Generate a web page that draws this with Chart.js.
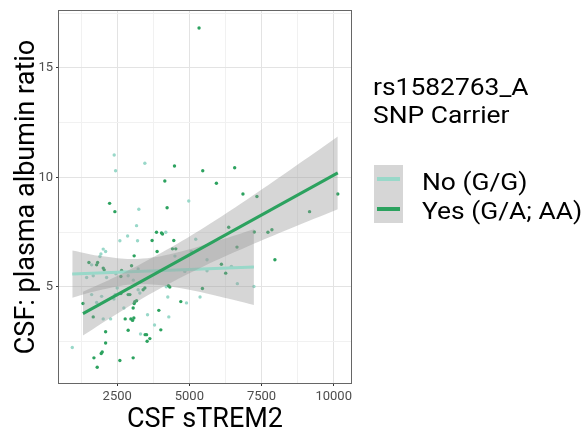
<!DOCTYPE html>
<html lang="en">
<head>
<meta charset="UTF-8">
<title>CSF sTREM2 vs CSF: plasma albumin ratio</title>
<script src="https://cdn.jsdelivr.net/npm/chart.js@4.4.1/dist/chart.umd.min.js"></script>
<style>
	body { margin: 0; background: #fff; font-family: Roboto, sans-serif; }
	#wrap { position: relative; width: 585px; height: 431px; }
	.legend-title { position: absolute; left: 373px; top: 73px; font-size: 24px; line-height: 28px; color: #000; white-space: nowrap; transform: scaleX(1.1); transform-origin: left top; }
	.key-box { position: absolute; left: 374px; top: 165px; width: 29px; height: 58px; background: #d6d6d6; }
	.key-line { position: absolute; left: 3px; width: 23px; height: 4px; }
	.legend-labels { position: absolute; left: 422px; top: 168px; font-size: 24px; line-height: 29px; color: #000; white-space: nowrap; transform: scaleX(1.1); transform-origin: left top; }
</style>
</head>
<body>
<div id="wrap">
	<canvas id="chart" width="585" height="431"></canvas>
	<div class="legend-title">rs1582763_A<br>SNP Carrier</div>
	<div class="key-box">
		<div class="key-line" style="top:12px;background:#99d8c9"></div>
		<div class="key-line" style="top:42px;background:#2ca25f"></div>
	</div>
	<div class="legend-labels">No (G/G)<br>Yes (G/A; AA)</div>
</div>

<script>
// carriers (G/A; AA)
const yesSTREM2 = [5336, 4485, 4150, 5464, 6570, 5937, 6857, 7341, 10142, 2237,
	2420, 4229, 9164, 6363, 7722, 7860, 7250, 3710, 3862, 4035,
	4070, 4461, 3883, 4416, 4530, 6650, 7964, 6110, 6259, 5453,
	4277, 4322, 4703, 4011, 3942, 3631, 3537, 3468, 3517, 3399,
	3458, 3088, 3112, 3053, 3171, 2974, 3033, 3077, 2777, 2880,
	3053, 2593, 2099, 2099, 1981, 1947, 1694, 1808, 1670, 1314,
	2628, 2880, 2939, 3088, 1521, 1822, 1788, 2016, 2050, 2652,
	2628, 2998];
const yesRatio = [16.82, 10.52, 9.83, 10.30, 10.44, 9.73, 9.24, 9.12, 9.24, 8.81,
	8.43, 8.61, 8.43, 7.72, 7.49, 7.60, 7.50, 7.11, 7.49, 7.46,
	7.41, 7.11, 6.61, 6.73, 6.73, 6.81, 6.23, 6.03, 5.62, 4.92,
	5.05, 4.99, 4.32, 3.03, 3.92, 2.63, 2.51, 2.81, 2.81, 4.86,
	4.94, 4.23, 4.32, 4.03, 4.36, 3.53, 3.46, 3.57, 3.53, 3.01,
	1.75, 1.63, 2.94, 2.43, 2.02, 1.95, 1.75, 1.32, 3.62, 4.23,
	4.69, 4.64, 4.64, 6.41, 6.11, 6.11, 6.00, 5.85, 5.77, 5.74,
	5.47, 5.96];

// non carriers (G/G)
const noSTREM2 = [2396, 2445, 3458, 3250, 4979, 3171, 2860, 2593, 3205, 4184,
	5221, 5073, 5612, 6456, 5612, 6663, 5370, 7237, 4253, 4900,
	3793, 4288, 3551, 3309, 944, 2016, 2272, 1788, 1615, 1961,
	2386, 2431, 2732, 2016, 2099, 1936, 1902, 1615, 1670, 1442,
	2133, 2455, 2880, 3226, 2500, 3226, 3285, 4841, 4500, 4200,
	3060];
const noRatio = [11.02, 10.30, 10.64, 8.54, 8.92, 7.79, 7.32, 7.10, 7.10, 7.49,
	7.17, 6.61, 6.23, 5.93, 5.73, 5.14, 4.53, 5.01, 4.53, 4.26,
	3.25, 3.62, 3.72, 2.84, 2.22, 3.53, 3.53, 4.28, 4.64, 4.56,
	4.44, 4.64, 4.03, 6.72, 6.61, 6.50, 6.38, 6.00, 5.50, 5.42,
	5.42, 5.59, 5.50, 5.81, 4.94, 4.86, 4.71, 5.70, 6.40, 5.00,
	5.30];

// fitted lines and their confidence bands
const yesFitX = [1314, 10142];
const yesFitY = [3.77, 10.20];
const yesBandX = [1314, 2500, 4000, 5500, 7000, 8500, 10142];
const yesBandUpper = [4.77, 5.49, 6.53, 7.70, 8.99, 10.34, 11.86];
const yesBandLower = [2.77, 3.77, 4.93, 5.94, 6.83, 7.66, 8.54];

const noFitX = [944, 7237];
const noFitY = [5.58, 5.90];
const noBandX = [944, 2000, 3200, 4500, 6000, 7237];
const noBandUpper = [6.66, 6.39, 6.27, 6.54, 7.11, 7.63];
const noBandLower = [4.50, 4.87, 5.11, 4.98, 4.57, 4.17];

// grid positions (major ones get labels and tick marks)
const xGrid = [1250, 2500, 3750, 5000, 6250, 7500, 8750, 10000];
const xMajor = [2500, 5000, 7500, 10000];
const yGrid = [2.5, 5, 7.5, 10, 12.5, 15, 17.5];
const yMajor = [5, 10, 15];

const pts = (xs, ys) => xs.map((x, i) => ({x: x, y: ys[i]}));

const lightGreen = '#99d8c9';
const darkGreen = '#2ca25f';
const bandFill = 'rgba(153, 153, 153, 0.4)';

function band(xs, ys, fill) {
	return {
		data: pts(xs, ys),
		showLine: true,
		pointRadius: 0,
		borderWidth: 1,
		borderColor: 'rgba(0,0,0,0)',
		backgroundColor: bandFill,
		tension: 0.4,
		fill: fill
	};
}

function fitLine(xs, ys, color) {
	return {
		data: pts(xs, ys),
		showLine: true,
		pointRadius: 0,
		borderWidth: 3,
		borderColor: color,
		fill: false
	};
}

function dots(xs, ys, color) {
	return {
		data: pts(xs, ys),
		pointRadius: 1.7,
		pointBorderWidth: 0,
		backgroundColor: color,
		borderColor: color
	};
}

// draws the full panel border like ggplot's theme_bw
const panelBorder = {
	id: 'panelBorder',
	afterDatasetsDraw(chart) {
		const {ctx, chartArea: a} = chart;
		ctx.save();
		ctx.strokeStyle = '#666666';
		ctx.lineWidth = 1;
		ctx.strokeRect(a.left - 0.5, a.top - 0.5, a.width + 1, a.height + 1);
		ctx.restore();
	}
};

const gridColor = (major) => (c) => major.includes(c.tick.value) ? '#e3e3e3' : '#f1f1f1';
const tickColor = (major) => (c) => major.includes(c.tick.value) ? '#333333' : 'rgba(0,0,0,0)';

new Chart(document.getElementById('chart').getContext('2d'), {
	type: 'scatter',
	data: {
		datasets: [
			fitLine(yesFitX, yesFitY, darkGreen),
			band(yesBandX, yesBandUpper, '+1'),
			band(yesBandX, yesBandLower, false),
			fitLine(noFitX, noFitY, lightGreen),
			band(noBandX, noBandUpper, '+1'),
			band(noBandX, noBandLower, false),
			dots(yesSTREM2, yesRatio, darkGreen),
			dots(noSTREM2, noRatio, lightGreen)
		]
	},
	options: {
		responsive: false,
		animation: false,
		layout: { padding: { top: 11, right: 234, bottom: 0, left: 0 } },
		plugins: {
			legend: { display: false },
			tooltip: { enabled: false }
		},
		scales: {
			x: {
				type: 'linear',
				min: 484,
				max: 10600,
				afterBuildTicks: (s) => { s.ticks = xGrid.map((v) => ({value: v})); },
				afterFit: (s) => { s.height = 48; },
				border: { display: false },
				grid: { color: gridColor(xMajor), tickColor: tickColor(xMajor), tickLength: 3 },
				ticks: {
					autoSkip: false,
					maxRotation: 0,
					padding: 3,
					color: '#4d4d4d',
					font: { family: 'Roboto', size: 13 },
					callback: (v) => xMajor.includes(v) ? String(v) : ''
				},
				title: {
					display: true,
					text: 'CSF sTREM2',
					color: '#000',
					font: { family: 'Roboto', size: 27, lineHeight: 0.8 },
					padding: { top: 0, bottom: 0 }
				}
			},
			y: {
				type: 'linear',
				min: 0.6,
				max: 17.6,
				afterBuildTicks: (s) => { s.ticks = yGrid.map((v) => ({value: v})); },
				afterFit: (s) => { s.width = 59; },
				border: { display: false },
				grid: { color: gridColor(yMajor), tickColor: tickColor(yMajor), tickLength: 3 },
				ticks: {
					autoSkip: false,
					padding: 3,
					color: '#4d4d4d',
					font: { family: 'Roboto', size: 13 },
					callback: (v) => yMajor.includes(v) ? String(v) : ''
				},
				title: {
					display: true,
					text: 'CSF: plasma albumin ratio',
					color: '#000',
					font: { family: 'Roboto', size: 27, lineHeight: 1 },
					padding: { top: 14, bottom: 0 }
				}
			}
		}
	},
	plugins: [panelBorder]
});
</script>
</body>
</html>
